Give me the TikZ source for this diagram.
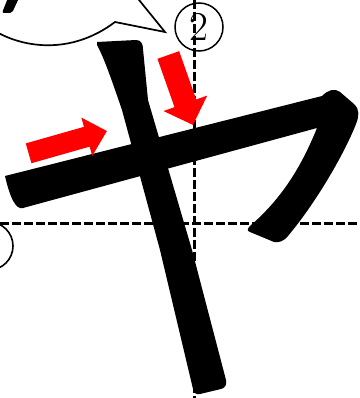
\documentclass[tikz,border=0pt]{standalone}
\usepackage{tikz}
\usetikzlibrary{arrows.meta}

\begin{document}
\begin{tikzpicture}[
  x=1pt, y=-1pt,
  guide/.style={line width=3pt, dash pattern=on 9pt off 3pt},
  inkstroke/.style={fill=black},
  redarrow/.style={draw=red, line cap=butt},
  numcircle/.style={circle, draw, line width=1.5pt, minimum size=48pt,
                    inner sep=0pt, font=\fontsize{41}{41}\selectfont},
  bubble/.style={draw, line width=1.7pt, line join=miter}
]
\useasboundingbox (0,0) rectangle (359,398);
\clip (0,0) rectangle (359,398);

%─── Speech bubble (cut off) ──────────────────────────────────────────────
\draw[bubble] (-10,28) .. controls (20,48) and (70,56) .. (115,22)
  -- (165,32) -- (135,-5);
\fill[rounded corners=2pt] (8,-2) -- (19,-2) -- (12,13) -- (2,13) -- cycle;

%─── Stroke numbers ───────────────────────────────────────────────────────
\node[numcircle] (num2) at (199,27) {2};
\draw[line width=1.6pt] (-11,246) circle (24);

%─── Guide lines ──────────────────────────────────────────────────────────
\draw[guide] (194,0) -- (194,398);
\draw[guide] (0,223) -- (359,223);

%─── Character strokes ────────────────────────────────────────────────────
% horizontal stroke with hook
\fill[inkstroke] (5,176) -- (322,96) .. controls (328,90) and (334,88) .. (340,92)
  -- (354,104) .. controls (360,110) and (359,116) .. (356,124)
  .. controls (345,152) and (318,200) .. (288,236)
  .. controls (284,241) and (279,243) .. (274,242)
  -- (250,232) .. controls (247,231) and (247,229) .. (250,226)
  .. controls (280,200) and (300,170) .. (317,128)
  -- (23,208) .. controls (16,210) and (10,198) .. (5,176) -- cycle;
% slanted vertical stroke
\fill[inkstroke] (97,42) -- (136,40) .. controls (141,40) and (143,44) .. (143,49)
  -- (148,100) -- (192,250) -- (226,380)
  .. controls (227,385) and (225,388) .. (221,389)
  -- (200,394) .. controls (196,395) and (194,393) .. (193,389)
  -- (160,250) -- (122,110) .. controls (110,75) and (104,58) .. (97,45) -- cycle;

%─── Direction arrows ─────────────────────────────────────────────────────
\coordinate (tailA) at (28.6,153.3);
\coordinate (tipA)  at (107,131);
\coordinate (tailB) at (168.3,55);
\coordinate (tipB)  at (193,125);
\draw[redarrow, line width=20.6pt, -{Triangle[length=21pt, width=38.5pt]}]
  (tailA) -- (tipA);
\draw[redarrow, line width=23pt, -{Triangle[length=23pt, width=45pt]}]
  (tailB) -- (tipB);

\end{tikzpicture}
\end{document}
